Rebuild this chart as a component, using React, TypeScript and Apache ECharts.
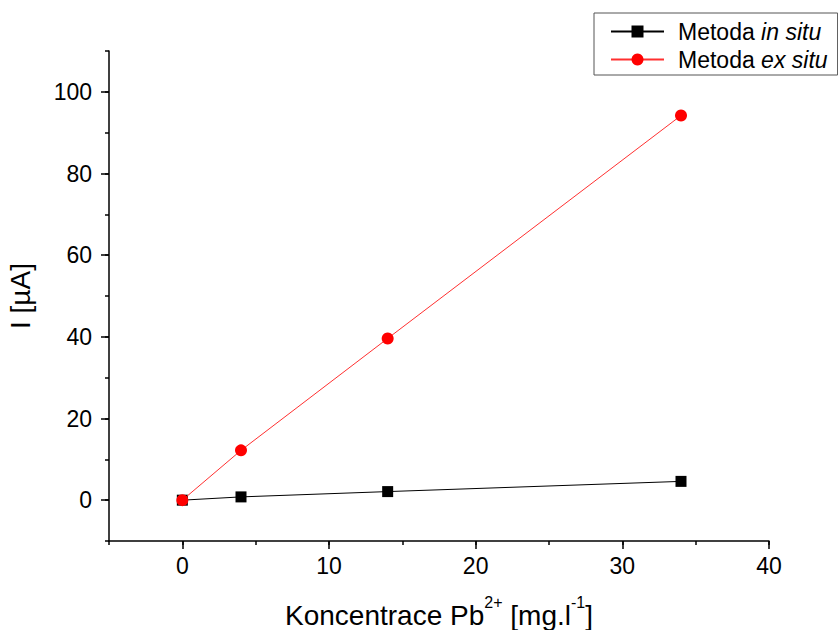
import React, { useEffect, useRef } from "react";
import * as echarts from "echarts";

const concentrations = [0, 4, 14, 34];
const inSituValues = [0, 0.8, 2.1, 4.6];
const exSituValues = [0, 12.2, 39.6, 94.2];
const xTickLabels = [0, 10, 20, 30, 40];
const yTickLabels = [0, 20, 40, 60, 80, 100];
const seriesNames = ["Metoda in situ", "Metoda ex situ"];

const FONT = "'Liberation Sans', Arial, sans-serif";

export default function App() {
  const ref = useRef<HTMLDivElement>(null);
  useEffect(() => {
    if (!ref.current) return;
    const chart = echarts.init(ref.current, null, { renderer: "svg" });
    const axisLine = { show: true, onZero: false, lineStyle: { color: "#000", width: 1.5 } };
    const tickStyle = { color: "#000", width: 1.5 };
    chart.setOption({
      animation: false,
      backgroundColor: "#fff",
      textStyle: { fontFamily: FONT },
      grid: { left: 109, right: 69, top: 51, bottom: 89, outerBoundsMode: "none", containLabel: false },
      legend: {
        left: 594,
        top: 13,
        orient: "vertical",
        itemWidth: 53,
        itemHeight: 15,
        itemGap: 5,
        padding: [7, 10, 4, 16],
        borderColor: "#555",
        borderWidth: 1,
        data: seriesNames,
        textStyle: {
          fontSize: 23,
          color: "#000",
          fontFamily: FONT,
          rich: {
            g: { width: 9 },
            i: { fontSize: 23, fontStyle: "italic", color: "#000", fontFamily: FONT },
          },
        },
        formatter: (name: string) => "{g|}Metoda {i|" + name.replace("Metoda ", "") + "}",
      },
      xAxis: [
        {
          type: "value",
          min: -5,
          max: 40,
          position: "bottom",
          axisLine,
          axisTick: { show: true, length: 8, customValues: xTickLabels, lineStyle: tickStyle },
          axisLabel: { customValues: xTickLabels, fontSize: 23, margin: 13, color: "#000", fontFamily: FONT },
          splitLine: { show: false },
          name: "Koncentrace Pb{sup|2+} [mg.l{sup|-1}]",
          nameLocation: "middle",
          nameGap: 53,
          nameTextStyle: {
            fontSize: 28,
            color: "#000",
            fontFamily: FONT,
            lineHeight: 42,
            rich: { sup: { fontSize: 16, verticalAlign: "top", lineHeight: 16, color: "#000", fontFamily: FONT } },
          },
        },
        {
          type: "value",
          min: -5,
          max: 40,
          interval: 5,
          position: "bottom",
          axisLine: { show: false, onZero: false },
          axisTick: { show: true, length: 4, lineStyle: tickStyle },
          axisLabel: { show: false },
          splitLine: { show: false },
        },
      ],
      yAxis: [
        {
          type: "value",
          min: -10,
          max: 110,
          position: "left",
          axisLine,
          axisTick: { show: true, length: 8, customValues: yTickLabels, lineStyle: tickStyle },
          axisLabel: { customValues: yTickLabels, fontSize: 23, margin: 17, color: "#000", fontFamily: FONT },
          splitLine: { show: false },
          name: "I [µA]",
          nameLocation: "middle",
          nameGap: 75,
          nameTextStyle: { fontSize: 28, color: "#000", fontFamily: FONT },
        },
        {
          type: "value",
          min: -10,
          max: 110,
          interval: 10,
          position: "left",
          axisLine: { show: false, onZero: false },
          axisTick: { show: true, length: 4, lineStyle: tickStyle },
          axisLabel: { show: false },
          splitLine: { show: false },
        },
      ],
      series: [
        {
          name: seriesNames[0],
          type: "line",
          xAxisIndex: 0,
          yAxisIndex: 0,
          data: concentrations.map((c, i) => [c, inSituValues[i]]),
          symbol: "rect",
          symbolSize: 11,
          itemStyle: { color: "#000" },
          lineStyle: { color: "#000", width: 1 },
          z: 3,
        },
        {
          name: seriesNames[1],
          type: "line",
          xAxisIndex: 0,
          yAxisIndex: 0,
          data: concentrations.map((c, i) => [c, exSituValues[i]]),
          symbol: "circle",
          symbolSize: 12,
          itemStyle: { color: "#ff0000" },
          lineStyle: { color: "#ff3030", width: 1 },
          z: 4,
        },
      ],
    });
    return () => chart.dispose();
  }, []);
  return <div ref={ref} style={{ position: "fixed", left: 0, top: 0, width: 838, height: 630 }} />;
}
